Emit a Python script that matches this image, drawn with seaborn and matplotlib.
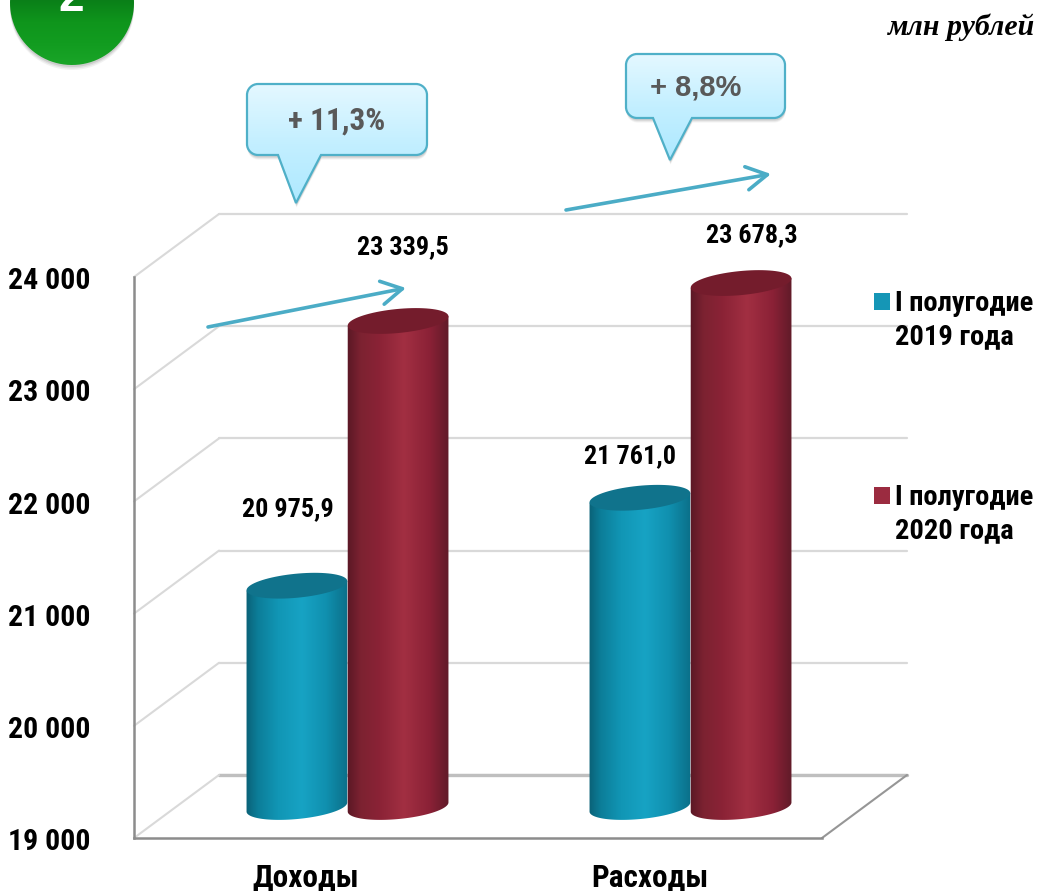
import numpy as np
import pandas as pd
import matplotlib
matplotlib.use("Agg")
import matplotlib.pyplot as plt
import seaborn as sns
from matplotlib import font_manager as fm
from matplotlib.patches import PathPatch, Patch
from matplotlib.path import Path
from matplotlib.transforms import Affine2D, ScaledTranslation
from matplotlib.colors import LinearSegmentedColormap

categories = ["Доходы", "Расходы"]
series_names = ["I полугодие\n2019 года", "I полугодие\n2020 года"]
values_2019 = [20975.9, 21761.0]
values_2020 = [23339.5, 23678.3]
y_ticks = [19000, 20000, 21000, 22000, 23000, 24000]
growth_labels = ["+ 11,3%", "+ 8,8%"]
unit_label = "млн рублей"
badge_label = "2"

W, H = 1038, 891
TEAL, RED = "#1596b6", "#9b2b40"
installed = {f.name for f in fm.fontManager.ttflist}
NARROW = [n for n in ["Roboto Condensed", "PT Sans Narrow", "Fira Sans Condensed", "Liberation Sans", "DejaVu Sans"]
          if n in installed]

sns.set_theme(style="white")
plt.rcParams["font.family"] = NARROW
plt.rcParams["font.weight"] = "bold"

fig = plt.figure(figsize=(W / 100, H / 100), dpi=100, facecolor="white")
px = Affine2D().scale(1, -1).translate(0, H)


def add_axes_px(x0, x1, y_low, y_high):
    """y_low: pixel row of the lowest value, y_high: pixel row of the highest"""
    return fig.add_axes([x0 / W, (H - y_low) / H, (x1 - x0) / W, (y_low - y_high) / H])


# ---- back wall with its gridlines
ax_back = add_axes_px(219, 907, 775, 214)
ax_back.set_zorder(0)
ax_back.set_xlim(0, 1)
ax_back.set_ylim(y_ticks[0], y_ticks[-1])
ax_back.set_yticks(y_ticks)
ax_back.tick_params(left=False, bottom=False, labelleft=False, labelbottom=False)
ax_back.set_xticks([])
ax_back.grid(axis="y", color="#d9d9d9", lw=1.6, clip_on=False)
sns.despine(ax=ax_back, left=True, bottom=True)
ax_back.plot([0, 1], [y_ticks[0]] * 2, color="#bfbfbf", lw=2.4, clip_on=False)

# ---- front frame that carries the value and category axes
ax_front = add_axes_px(134, 822, 838, 277)
ax_front.set_zorder(1)
ax_front.patch.set_alpha(0)
ax_front.set_xlim(-0.5, 1.5)
ax_front.set_ylim(y_ticks[0], y_ticks[-1])
ax_front.set_yticks(y_ticks)
ax_front.set_yticklabels([f"{t:,}".replace(",", " ") for t in y_ticks], fontsize=21.5,
                         color="black", va="center_baseline")
ax_front.set_xticks(range(len(categories)))
ax_front.set_xticklabels(categories, fontsize=22.5, color="black")
ax_front.tick_params(axis="y", length=0, pad=31)
ax_front.tick_params(axis="x", length=0, pad=17.5)
for lbl in ax_front.get_yticklabels():
    lbl.set_transform(lbl.get_transform() + ScaledTranslation(0, -1.2 / 100, fig.dpi_scale_trans))
for s in ("top", "right"):
    ax_front.spines[s].set_visible(False)
for s in ("left", "bottom"):
    ax_front.spines[s].set_color("#8c8c8c")
    ax_front.spines[s].set_linewidth(1.8)

# diagonals linking the front frame to the back wall
for t in y_ticks:
    yb = ax_back.transData.transform((0, t))[1]
    yf = ax_front.transData.transform((0, t))[1]
    ax_front.plot([134, 219], [H - yf, H - yb], transform=px, color="#d9d9d9", lw=1.5,
                  clip_on=False, zorder=0)
ax_front.plot([822, 907], [838, 775], transform=px, color="#969696", lw=1.5, clip_on=False)

# ---- bars
ax = add_axes_px(176, 862, 807, 247)
ax.set_zorder(2)
ax.patch.set_alpha(0)
df = pd.DataFrame({
    "category": categories * 2,
    "value": values_2019 + values_2020,
    "period": [series_names[0]] * 2 + [series_names[1]] * 2,
})
sns.barplot(data=df, x="category", y="value", hue="period", palette=[TEAL, RED], width=0.59,
            gap=0, saturation=1, legend=False, ax=ax)
ax.set_xlim(-0.5, 1.5)
ax.set_ylim(y_ticks[0], y_ticks[-1])
ax.set_xlabel("")
ax.set_ylabel("")
ax.set_xticks([])
ax.set_yticks([])
ax.grid(False)
for s in ax.spines.values():
    s.set_visible(False)

TILT = np.deg2rad(5.5)
ELL_B = 12.0
cmap_teal = LinearSegmentedColormap.from_list("t", [(0, "#0a5f74"), (0.12, "#0c7d98"), (0.32, "#1196b5"),
                                                    (0.55, "#17a3c4"), (0.78, "#1090af"), (1, "#0b6e87")])
cmap_red = LinearSegmentedColormap.from_list("r", [(0, "#5a1825"), (0.13, "#7c2231"), (0.32, "#8b2336"),
                                                   (0.55, "#a22f42"), (0.8, "#8a2136"), (1, "#5c1a27")])


def ell(cx, cy, a, th):
    c, s = np.cos(TILT), np.sin(TILT)
    return np.column_stack([cx + a * np.cos(th) * c + ELL_B * np.sin(th) * s,
                            cy - a * np.cos(th) * s + ELL_B * np.sin(th) * c])


def to_px(x, y):
    dx, dy = ax.transData.transform((x, y))
    return dx, H - dy


def cylinder(bar, cmap, top_color, z):
    x0, top = to_px(bar.get_x(), bar.get_height())
    x1, base = to_px(bar.get_x() + bar.get_width(), y_ticks[0])
    cx, a = (x0 + x1) / 2, (x1 - x0) / 2
    low = ell(cx, base, a, np.linspace(np.pi, 0, 60))
    first, last = ell(cx, top, a, np.array([np.pi, 0.0]))
    body = np.vstack([first, low, last, first])
    im = ax.imshow(np.linspace(0, 1, 256)[None, :], cmap=cmap, extent=(x0 - 1, x1 + 1, base + 20, top - 20),
                   transform=px, aspect="auto", zorder=z)
    im.set_clip_box(fig.bbox)
    im.set_clip_path(Path(body), px)
    cap = ell(cx, top, a, np.linspace(0, 2 * np.pi, 80))
    ax.add_patch(PathPatch(Path(cap), fc=top_color, ec="none", transform=px, zorder=z + 0.1, clip_on=False))
    return cx, top


label_offsets = {0: [(-9, 77), (-10, 42)], 1: [(5, 74), (11, 48)]}
for k, (cont, cm, capc) in enumerate(zip(ax.containers, (cmap_teal, cmap_red), ("#10738c", "#741c2c"))):
    for j, bar in enumerate(cont):
        bar.set_alpha(0)
        cx, top = cylinder(bar, cm, capc, 3 + k)
        ax.annotate(f"{bar.get_height():,.1f}".replace(",", " ").replace(".", ","),
                    xy=(cx, top), xycoords=px, xytext=label_offsets[k][j], textcoords="offset pixels",
                    ha="center", va="center", fontsize=18.8, color="black", annotation_clip=False, zorder=8)
ax.set_xlim(-0.5, 1.5)
ax.set_ylim(y_ticks[0], y_ticks[-1])


# ---- callouts
def callout_path(x0, y0, x1, y1, r, t0, t1, tx, ty):
    k = 0.55 * r
    v = [(x0 + r, y0), (x1 - r, y0), (x1 - r + k, y0), (x1, y0 + r - k), (x1, y0 + r),
         (x1, y1 - r), (x1, y1 - r + k), (x1 - r + k, y1), (x1 - r, y1),
         (t1, y1), (tx, ty), (t0, y1), (x0 + r, y1),
         (x0 + r - k, y1), (x0, y1 - r + k), (x0, y1 - r),
         (x0, y0 + r), (x0, y0 + r - k), (x0 + r - k, y0), (x0 + r, y0)]
    c = [Path.MOVETO, Path.LINETO, Path.CURVE4, Path.CURVE4, Path.CURVE4,
         Path.LINETO, Path.CURVE4, Path.CURVE4, Path.CURVE4,
         Path.LINETO, Path.LINETO, Path.LINETO, Path.LINETO,
         Path.CURVE4, Path.CURVE4, Path.CURVE4,
         Path.LINETO, Path.CURVE4, Path.CURVE4, Path.CURVE4]
    return Path(v, c)


cmap_call = LinearSegmentedColormap.from_list("c", ["#e4f8ff", "#c3efff", "#aee9ff"])


def callout(x0, y0, x1, y1, t0, t1, tx, ty):
    p = callout_path(x0, y0, x1, y1, 11, t0, t1, tx, ty)
    for off, al in ((4.5, 0.08), (3.5, 0.1), (2.5, 0.14)):
        sh = p.transformed(Affine2D().translate(0.5, off))
        ax.add_patch(PathPatch(sh, fc="#606060", ec="none", alpha=al, transform=px, zorder=9, clip_on=False))
    im = ax.imshow(np.linspace(0, 1, 128)[:, None], cmap=cmap_call, extent=(x0, x1, ty, y0), transform=px,
                   aspect="auto", zorder=10)
    im.set_clip_box(fig.bbox)
    im.set_clip_path(p, px)
    ax.add_patch(PathPatch(p, fc="none", ec="#4fb0c8", lw=1.6, transform=px, zorder=11, clip_on=False))


callout(247, 84, 427, 155, 278, 321, 296, 203)
callout(626, 54, 785, 118, 653, 692, 670, 160)
ax.text(337, 121, growth_labels[0], transform=px, ha="center", va="center", fontsize=22.5, color="#595959",
        zorder=12, clip_on=False)
ax.text(695.5, 87, growth_labels[1], transform=px, ha="center", va="center", fontsize=21, color="#595959",
        family=["Liberation Sans"], zorder=12, clip_on=False)

# ---- growth arrows
for (xa, ya, xb, yb) in ((208, 327, 406, 288), (566, 210, 771, 174)):
    ax.annotate("", xy=(xb, yb), xytext=(xa, ya), xycoords=px, textcoords=px, annotation_clip=False, zorder=7,
                arrowprops=dict(arrowstyle="->,head_length=0.75,head_width=0.42", color="#4bacc6", lw=2.6,
                                mutation_scale=20, shrinkA=0, shrinkB=0))

# ---- badge
theta = np.linspace(0, 2 * np.pi, 200)
circle = Path(np.column_stack([72 + 62 * np.cos(theta), 3 + 62 * np.sin(theta)]))
for off, al in ((5, 0.07), (3.5, 0.1), (2, 0.14)):
    ax.add_patch(PathPatch(circle.transformed(Affine2D().translate(0, off)), fc="#505050", ec="none", alpha=al,
                           transform=px, zorder=9, clip_on=False))
cmap_green = LinearSegmentedColormap.from_list("g", ["#0a7f18", "#0f951c", "#129c20", "#1aa528"])
im = ax.imshow(np.linspace(0, 1, 128)[:, None], cmap=cmap_green, extent=(10, 134, 65, 0), transform=px,
               aspect="auto", zorder=10)
im.set_clip_box(fig.bbox)
im.set_clip_path(circle, px)
ax.text(71, 11, badge_label, transform=px, ha="center", va="baseline", fontsize=33, color="white",
        family=["Liberation Sans"], zorder=12, clip_on=False)

# ---- unit
ax.text(1034, 27, unit_label, transform=px, ha="right", va="center", fontsize=21.5, style="italic", color="black",
        family=["Liberation Serif"], zorder=12, clip_on=False)

ax.set_xlim(-0.5, 1.5)
ax.set_ylim(y_ticks[0], y_ticks[-1])

# ---- legend
handles = [Patch(fc=c, ec="none", label=n) for c, n in zip((TEAL, RED), series_names)]
leg = ax.legend(handles=handles, loc="upper left", bbox_to_anchor=(874 / W, (H - 290) / H),
                bbox_transform=fig.transFigure, frameon=False, fontsize=20.5, handlelength=0.55, handleheight=0.55,
                handletextpad=0.2, labelspacing=4.7, borderpad=0, borderaxespad=0, alignment="left",
                labelcolor="black")
leg.set_zorder(12)
for t in leg.get_texts():
    t.set_linespacing(1.3)
for h in leg.legend_handles:
    h.set_y(h.get_y() + 14)

fig.savefig("out.png", dpi=100)
